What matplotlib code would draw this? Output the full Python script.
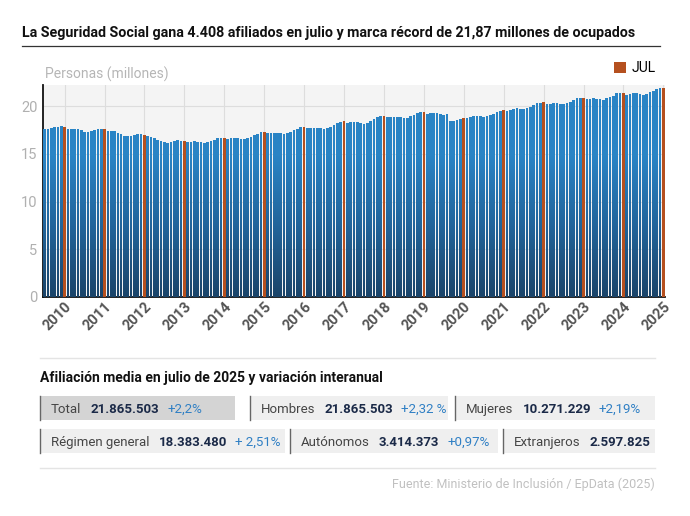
import numpy as np
import matplotlib.pyplot as plt
from matplotlib.path import Path
from matplotlib.patches import Rectangle

plt.rcParams['font.family'] = 'Roboto'

years = list(range(2010, 2026))
afiliados = [
    17.58, 17.62, 17.70, 17.78, 17.85, 17.87, 17.78, 17.58, 17.60, 17.64, 17.60, 17.48,
    17.26, 17.29, 17.35, 17.48, 17.58, 17.62, 17.58, 17.42, 17.40, 17.34, 17.22, 17.07,
    16.89, 16.88, 16.90, 16.98, 17.04, 17.03, 16.98, 16.82, 16.75, 16.62, 16.47, 16.33,
    16.20, 16.17, 16.22, 16.31, 16.41, 16.38, 16.36, 16.24, 16.26, 16.29, 16.24, 16.20,
    16.17, 16.22, 16.33, 16.49, 16.60, 16.68, 16.68, 16.58, 16.62, 16.65, 16.63, 16.57,
    16.56, 16.62, 16.75, 16.94, 17.09, 17.25, 17.28, 17.16, 17.18, 17.22, 17.18, 17.14,
    17.06, 17.13, 17.28, 17.46, 17.62, 17.78, 17.77, 17.68, 17.70, 17.73, 17.72, 17.68,
    17.59, 17.67, 17.83, 18.03, 18.22, 18.36, 18.42, 18.27, 18.29, 18.32, 18.30, 18.24,
    18.15, 18.26, 18.44, 18.62, 18.81, 18.93, 18.99, 18.84, 18.86, 18.89, 18.86, 18.82,
    18.72, 18.79, 18.91, 19.08, 19.26, 19.37, 19.36, 19.19, 19.22, 19.26, 19.23, 19.17,
    19.11, 19.16, 18.40, 18.38, 18.52, 18.60, 18.79, 18.74, 18.87, 18.97, 18.98, 18.97,
    18.88, 18.96, 19.06, 19.18, 19.34, 19.48, 19.59, 19.47, 19.58, 19.70, 19.74, 19.72,
    19.66, 19.76, 19.93, 20.10, 20.28, 20.35, 20.39, 20.21, 20.23, 20.28, 20.28, 20.26,
    20.20, 20.31, 20.45, 20.60, 20.82, 20.88, 20.88, 20.69, 20.72, 20.80, 20.78, 20.71,
    20.68, 20.80, 20.94, 21.10, 21.32, 21.39, 21.39, 21.20, 21.24, 21.31, 21.34, 21.29,
    21.20, 21.30, 21.45, 21.60, 21.78, 21.86, 21.87,
]

# cajas de resumen: (etiqueta, valor, variación)
fila1 = [("Total", "21.865.503", "+2,2%"),
         ("Hombres", "21.865.503", "+2,32 %"),
         ("Mujeres", "10.271.229", "+2,19%")]
fila2 = [("Régimen general", "18.383.480", "+ 2,51%"),
         ("Autónomos", "3.414.373", "+0,97%"),
         ("Extranjeros", "2.597.825", "")]

W, H = 690, 516
fig = plt.figure(figsize=(6.9, 5.16), dpi=100)

def fx(px):
    return px / W

def fy(py):
    return 1 - py / H

fig.text(fx(22), fy(33), "La Seguridad Social gana 4.408 afiliados en julio y marca récord de 21,87 millones de ocupados",
         fontsize=10.3, fontweight='bold', va='center', ha='left', color='#111111')
fig.add_artist(plt.Line2D([fx(22), fx(660)], [fy(46), fy(46)], color='#333333', lw=0.9))

ax = fig.add_axes([fx(43), fy(297), fx(665) - fx(43), fy(85) - fy(297)])
ax.set_facecolor('#f4f4f4')
x = np.arange(len(afiliados))
julio = (x % 12) == 6
bars_azul = ax.bar(x[~julio], np.array(afiliados)[~julio], width=0.8, color='#2a7fc0', zorder=2)
ax.bar(x[julio], np.array(afiliados)[julio], width=0.8, color='#b5501f', zorder=4, label='JUL')

# degradado vertical sobre las barras azules
paths = [r.get_path().transformed(r.get_patch_transform()) for r in bars_azul]
clip = Path.make_compound_path(*paths)
grad = np.linspace(0, 1, 256).reshape(-1, 1)
img = ax.imshow(grad, extent=[-0.5, len(afiliados) - 0.5, 0, 22.2], origin='lower', aspect='auto',
                cmap=plt.matplotlib.colors.LinearSegmentedColormap.from_list('g', ['#1a4469', '#22649a', '#2a84c5', '#2a84c5']),
                zorder=3)
img.set_clip_path(clip, transform=ax.transData)

ax.set_xlim(-0.5, len(afiliados) - 0.5)
ax.set_ylim(0, 22.2)
ax.set_yticks([0, 5, 10, 15, 20])
ax.set_xticks(x[julio])
ax.set_xticklabels([str(y) for y in years], rotation=45, ha='right', rotation_mode='anchor',
                   fontsize=10.5, fontweight='bold', color='#555555')
ax.tick_params(axis='y', colors='#b0b0b0', labelsize=10.5, length=0, pad=4)
ax.tick_params(axis='x', length=0, pad=2)
ax.grid(True, color='#dddddd', lw=0.8, zorder=0)
for s in ['top', 'right']:
    ax.spines[s].set_visible(False)
ax.spines['left'].set_color('#111111')
ax.spines['bottom'].set_color('#111111')
ax.spines['bottom'].set_linewidth(1.3)
ax.spines['left'].set_linewidth(1.3)
ax.legend(loc='lower right', bbox_to_anchor=(1.0, 1.0), frameon=False, fontsize=10,
          handlelength=0.8, handleheight=0.8, handletextpad=0.4, borderpad=0.2)

fig.text(fx(45), fy(74), "Personas (millones)", fontsize=10, color='#b5b5b5', va='center')

# bloque inferior
fig.add_artist(plt.Line2D([fx(40), fx(655)], [fy(358), fy(358)], color='#e4e4e4', lw=1))
fig.text(fx(40), fy(378), "Afiliación media en julio de 2025 y variación interanual",
         fontsize=10, fontweight='bold', va='center', color='#111111')

def caja(x0, x1, ytop, etiqueta, valor, var, fondo):
    fig.add_artist(Rectangle((fx(x0), fy(ytop + 24)), fx(x1) - fx(x0), fy(ytop) - fy(ytop + 24),
                             transform=fig.transFigure, facecolor=fondo, edgecolor='none'))
    fig.add_artist(plt.Line2D([fx(x0), fx(x0)], [fy(ytop), fy(ytop + 24)], color='#666666', lw=1))
    r = fig.canvas.get_renderer()
    yc = fy(ytop + 12)
    t1 = fig.text(fx(x0 + 11), yc, etiqueta, fontsize=9.5, color='#444444', va='center_baseline')
    bb = t1.get_window_extent(r)
    t2 = fig.text(bb.x1 / W + fx(9), yc, valor, fontsize=9.5, fontweight='bold',
                  color='#1b2a48', va='center_baseline')
    bb = t2.get_window_extent(r)
    fig.text(bb.x1 / W + fx(8), yc, var, fontsize=9.5, color='#2f7fc4', va='center_baseline')

pos1 = [(40, 235), (250, 448), (455, 655)]
pos2 = [(40, 285), (290, 498), (503, 655)]
for i, (e, v, p) in enumerate(fila1):
    caja(pos1[i][0], pos1[i][1], 396, e, v, p, '#d4d4d4' if i == 0 else '#efefef')
for i, (e, v, p) in enumerate(fila2):
    caja(pos2[i][0], pos2[i][1], 429, e, v, p, '#efefef')

fig.add_artist(plt.Line2D([fx(40), fx(655)], [fy(468), fy(468)], color='#e4e4e4', lw=1))
fig.text(fx(655), fy(484), "Fuente: Ministerio de Inclusión / EpData (2025)", fontsize=9,
         color='#c0c0c0', ha='right', va='center')

fig.savefig('out.png', dpi=100)
